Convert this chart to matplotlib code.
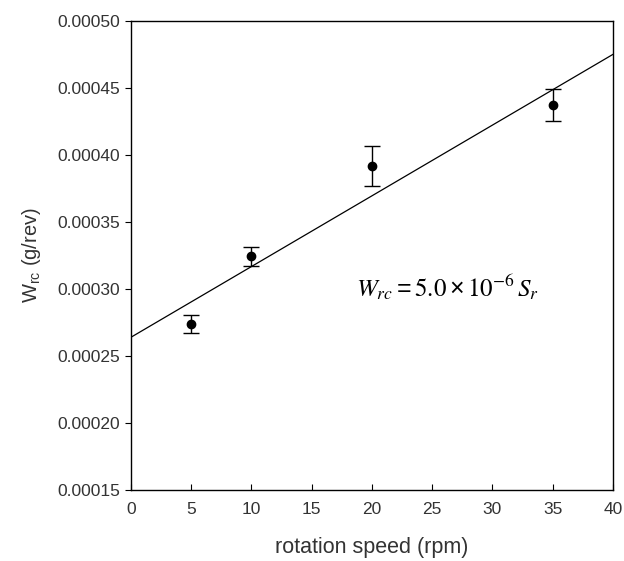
import numpy as np
import matplotlib
matplotlib.use("Agg")
import matplotlib.pyplot as plt

plt.rcParams["font.family"] = ["Liberation Sans", "DejaVu Sans"]
plt.rcParams["mathtext.default"] = "regular"

# measured points
speed = [5, 10, 20, 35]
wrc = [0.000274, 0.0003245, 0.000392, 0.000437]
wrc_err = [0.0000068, 0.0000072, 0.000015, 0.000012]

# fitted line endpoints
fit_x = [0, 40]
fit_y = [0.000264, 0.000475]

fig = plt.figure(figsize=(6.24, 5.61), dpi=100, facecolor="white")
ax = fig.add_axes([0.21, 0.1266, 0.772, 0.836])

ax.plot(fit_x, fit_y, color="black", lw=0.9)
ax.errorbar(speed, wrc, yerr=wrc_err, fmt="o", color="black", ms=6,
            ecolor="black", elinewidth=1.0, capsize=6, capthick=1.0)

ax.text(18.7, 0.000301,
        r"$\mathit{W_{rc}} = \mathrm{5.0}\times\mathrm{10}^{\mathrm{-6}}\,\mathit{S_r}$",
        fontsize=18, ha="left", va="center", math_fontfamily="stix")

yticks = np.arange(0.00015, 0.000501, 0.00005)
ax.set_xlim(0, 40)
ax.set_ylim(0.00015, 0.00050)
ax.set_xticks(np.arange(0, 41, 5))
ax.set_yticks(yticks)
ax.set_yticklabels([f"{v:.5f}" for v in yticks])
ax.tick_params(axis="x", direction="in", length=4, labelsize=12.5,
               colors="black", labelcolor="#333333", pad=9)
ax.tick_params(axis="y", direction="out", length=4, labelsize=12.5,
               colors="black", labelcolor="#333333", pad=4)
for s in ax.spines.values():
    s.set_linewidth(1.0)

ax.set_xlabel("rotation speed (rpm)", fontsize=15.5, color="#333333", labelpad=14)
ax.set_ylabel(r"W$_{rc}$ (g/rev)", fontsize=14.5, color="#333333", labelpad=10)

fig.savefig("out.png", dpi=100)
